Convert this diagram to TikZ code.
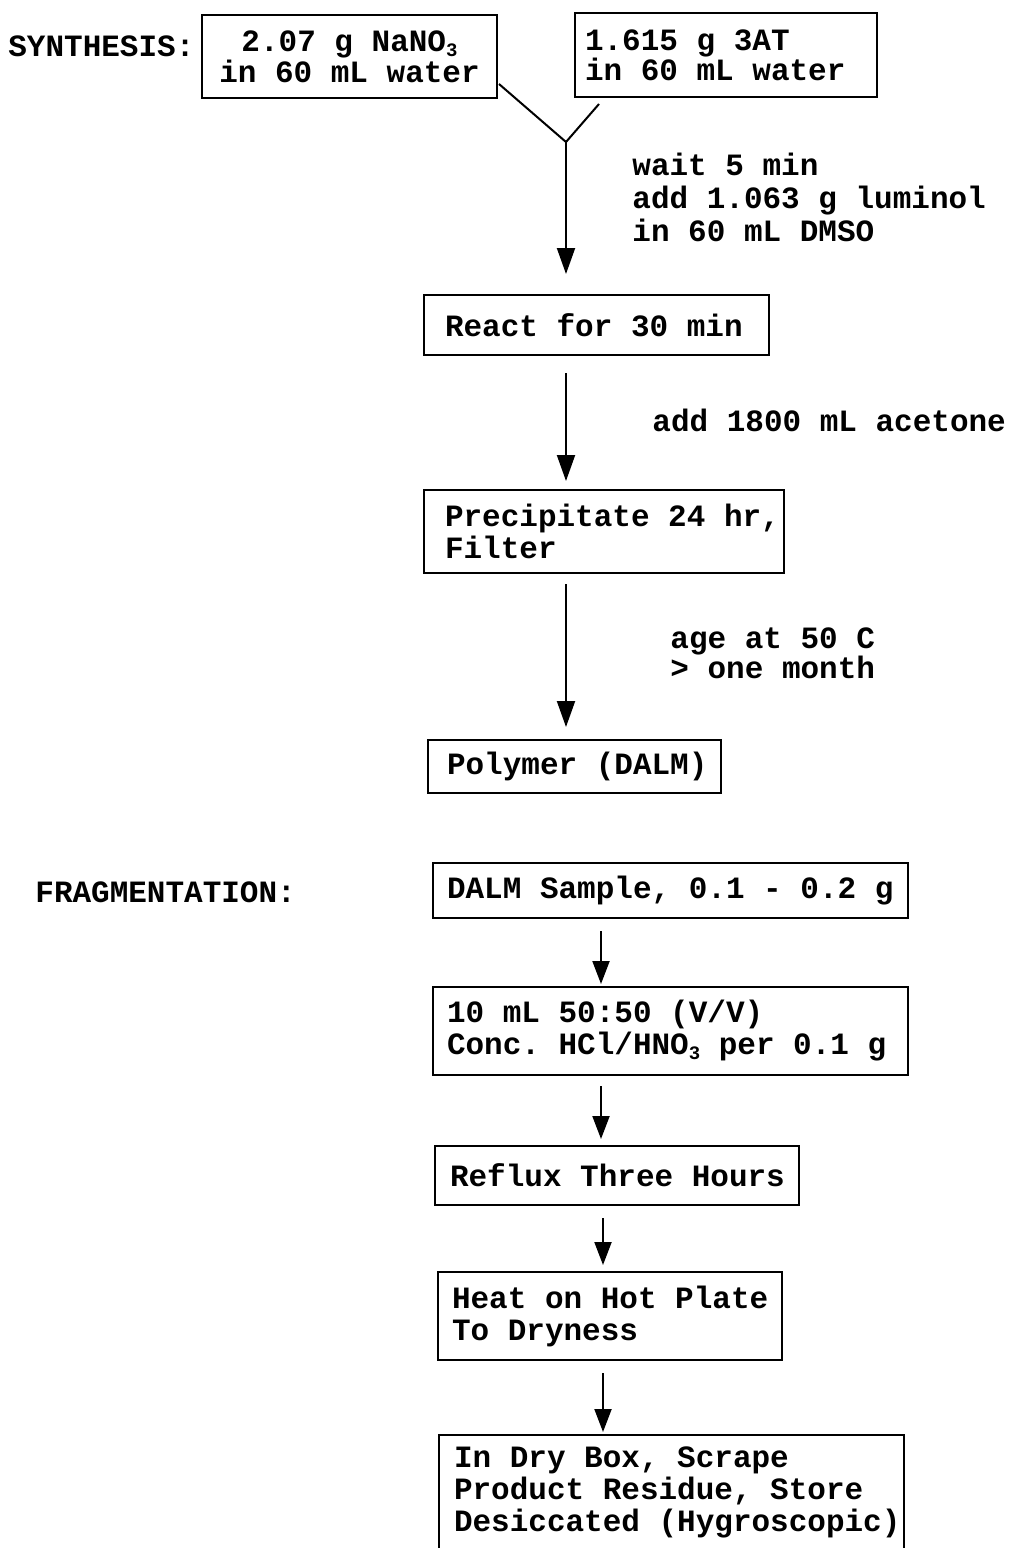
\documentclass[tikz,border=0pt]{standalone}
\usepackage{fontspec}
\setmonofont{Liberation Mono}
\usetikzlibrary{arrows.meta,calc}
\newcommand{\chemsub}[1]{\raisebox{-0.3ex}{\fontsize{9.5}{9.5}\selectfont #1}}
\tikzset{
  every node/.style={font=\ttfamily\bfseries\fontsize{15.5}{16}\selectfont, inner sep=0pt},
  box/.style={draw, line width=1pt, rectangle, align=left, inner xsep=0pt, inner ysep=0pt,
    execute at begin node={\spaceskip=0pt\relax\xspaceskip=0pt\relax}},
  ind/.style={execute at begin node={\spaceskip=0pt\relax\xspaceskip=0pt\relax\leftskip=#1\relax}},
  lbl/.style={anchor=west, align=left, execute at begin node={\spaceskip=0pt\relax\xspaceskip=0pt\relax}},
  tight/.style={font=\ttfamily\bfseries\fontsize{15.5}{13}\selectfont},
  ln/.style={line width=1pt},
  arrbig/.style={line width=1pt, -{Triangle[width=9pt,length=13pt]}},
  arrsmall/.style={line width=1pt, -{Triangle[width=8.5pt,length=11.5pt]}}
}
\begin{document}
\begin{tikzpicture}[x=0.5pt,y=-0.5pt]
\path[fill=white] (0,0) rectangle (1009,1548);
\useasboundingbox (0,0) rectangle (1009,1548);

% ---------- SYNTHESIS ----------
\node[lbl] (syn) at (8,46) {SYNTHESIS:};
\node[box, tight, align=center, text width=147.5pt, minimum height=41.5pt] (b1) at (349.5,56.5)
  {2.07 g NaNO\chemsub{3}\\in 60 mL water};
\node[box, font=\ttfamily\bfseries\fontsize{15.5}{15}\selectfont, ind=5pt, text width=151pt, minimum height=42pt] (b2) at (726,55)
  {1.615 g 3AT\\in 60 mL water};

\coordinate (j) at (566,142);
\draw[ln] ($(b1.south east)+(1,-15)$) -- (j);
\draw[ln] ($(b2.south west)+(25,6)$) -- (j);

\node[lbl, font=\ttfamily\bfseries\fontsize{15.5}{16.5}\selectfont] (l1) at (632,197)
  {wait 5 min\\add 1.063 g luminol\\in 60 mL DMSO};

\node[box, ind=10.5pt, text width=172.5pt, minimum height=30pt] (b3) at (596.5,325)
  {React for 30 min};
\draw[arrbig, shorten >=10pt] (j) -- (j |- b3.north);

\node[lbl] (l2) at (652,420) {add 1800 mL acetone};

\node[box, ind=10.5pt, text width=180pt, minimum height=41.5pt] (b4) at (604,531.5)
  {Precipitate 24 hr,\\Filter};
\draw[arrbig, shorten <=8.5pt, shorten >=4pt] (j |- b3.south) -- (j |- b4.north);

\node[lbl, font=\ttfamily\bfseries\fontsize{15.5}{15}\selectfont] (l3) at (670,653)
  {age at 50 C\\> one month};

\node[box, ind=9.5pt, text width=146.5pt, minimum height=26.5pt] (b5) at (574.5,766.5)
  {Polymer (DALM)};
\draw[arrbig, shorten <=5pt, shorten >=6pt] (j |- b4.south) -- (j |- b5.north);

% ---------- FRAGMENTATION ----------
\node[lbl] (frag) at (35,892) {FRAGMENTATION:};
\coordinate (k) at (601,900);
\coordinate (m) at (603,1200);

\node[box, ind=7pt, text width=237.5pt, minimum height=27.5pt] (b6) at (670.5,890.5)
  {DALM Sample, 0.1 - 0.2 g};
\node[box, ind=7pt, text width=237.5pt, minimum height=44pt] (b7) at (670.5,1031)
  {10 mL 50:50 (V/V)\\Conc. HCl/HNO\chemsub{3} per 0.1 g};
\draw[arrsmall, shorten <=6pt, shorten >=1pt] (k |- b6.south) -- (k |- b7.north);

\node[box, ind=7.5pt, text width=182pt, minimum height=29.5pt] (b8) at (617,1175.5)
  {Reflux Three Hours};
\draw[arrsmall, shorten <=5pt, shorten >=3pt] (k |- b7.south) -- (k |- b8.north);

\node[box, ind=7pt, text width=172pt, minimum height=44pt] (b9) at (610,1316)
  {Heat on Hot Plate\\To Dryness};
\draw[arrsmall, shorten <=6pt, shorten >=3pt] (m |- b8.south) -- (m |- b9.north);

\node[box, draw=none, ind=7pt, text width=231.5pt, minimum height=56pt] (b10) at (671.5,1492)
  {In Dry Box, Scrape\\Product Residue, Store\\Desiccated (Hygroscopic)};
\draw[ln] (b10.south west) -- (b10.north west) -- (b10.north east) -- (b10.south east);
\draw[arrsmall, shorten <=6pt, shorten >=1.5pt] (m |- b9.south) -- (m |- b10.north);
\end{tikzpicture}
\end{document}
